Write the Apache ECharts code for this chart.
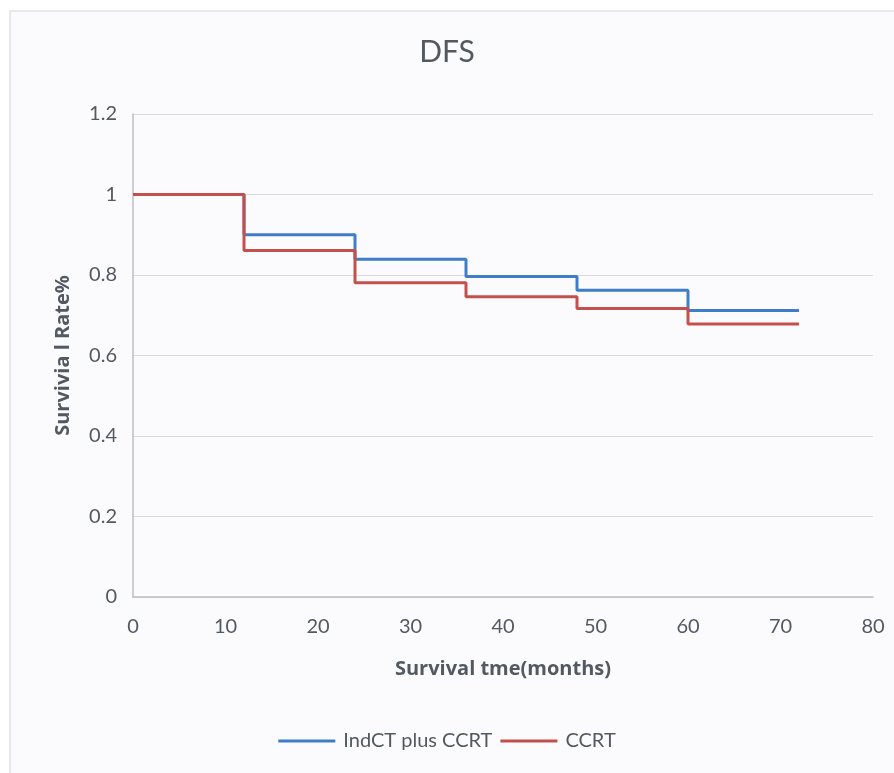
<!DOCTYPE html>
<html><head><meta charset="utf-8">
<script src="https://cdn.jsdelivr.net/npm/echarts@6/dist/echarts.min.js"></script>
<style>html,body{margin:0;padding:0;background:#fff}#c{width:894px;height:773px}</style>
</head><body><div id="c"></div>
<script>
const months = [0, 12, 24, 36, 48, 60, 72];
const indctCCRT = [1, 0.90, 0.839, 0.796, 0.762, 0.712, 0.712];
const ccrt = [1, 0.861, 0.781, 0.746, 0.717, 0.678, 0.678];
const seriesNames = ['IndCT plus CCRT', 'CCRT'];

const font = 'Lato, "Open Sans", sans-serif';
const boldFont = '"Open Sans", Lato, sans-serif';
const txt = '#535960';
const chart = echarts.init(document.getElementById('c'));
chart.setOption({
  backgroundColor: '#ffffff',
  graphic: [{
    type: 'rect', z: -10,
    shape: { x: 10, y: 11, width: 900, height: 780 },
    style: { fill: '#fbfbfd', stroke: '#dfe3e8', lineWidth: 1.5 }
  }],
  title: {
    text: 'DFS', left: 'center', top: 32,
    textStyle: { fontFamily: font, fontSize: 30, fontWeight: 'normal', color: txt }
  },
  legend: {
    bottom: 17, left: 'center', itemWidth: 57, itemHeight: 3, itemGap: 8,
    icon: 'rect',
    textStyle: { fontFamily: font, fontSize: 20, color: txt, padding: [0, 0, 0, 3] },
    data: seriesNames
  },
  grid: { left: 133, right: 21, top: 114, bottom: 176 },
  xAxis: {
    type: 'value', min: 0, max: 80, interval: 10,
    name: 'Survival tme(months)', nameLocation: 'middle', nameGap: 62,
    nameTextStyle: { fontFamily: boldFont, fontSize: 20, fontWeight: 'bold', color: txt },
    axisLine: { show: true, lineStyle: { color: '#bfbfbf', width: 1.5 } },
    axisTick: { show: false },
    splitLine: { show: false },
    axisLabel: { fontFamily: font, fontSize: 20, color: txt, margin: 20 }
  },
  yAxis: {
    type: 'value', min: 0, max: 1.2, interval: 0.2,
    name: 'Survivia l Rate%', nameLocation: 'middle', nameGap: 60,
    nameTextStyle: { fontFamily: boldFont, fontSize: 20, fontWeight: 'bold', color: txt },
    axisLine: { show: true, lineStyle: { color: '#bfbfbf', width: 1.5 } },
    axisTick: { show: false },
    splitLine: { show: true, lineStyle: { color: '#d9d9d9', width: 1.2 } },
    axisLabel: { fontFamily: font, fontSize: 20, color: txt, margin: 16,
      formatter: v => String(Math.round(v * 10) / 10) }
  },
  series: [
    { name: seriesNames[0], type: 'line', step: 'end', showSymbol: false,
      data: months.map((m, i) => [m, indctCCRT[i]]),
      itemStyle: { color: '#3f7ec6' }, lineStyle: { color: '#3f7ec6', width: 3 } },
    { name: seriesNames[1], type: 'line', step: 'end', showSymbol: false,
      data: months.map((m, i) => [m, ccrt[i]]),
      itemStyle: { color: '#c4504e' }, lineStyle: { color: '#c4504e', width: 3 } }
  ]
});
</script></body></html>
